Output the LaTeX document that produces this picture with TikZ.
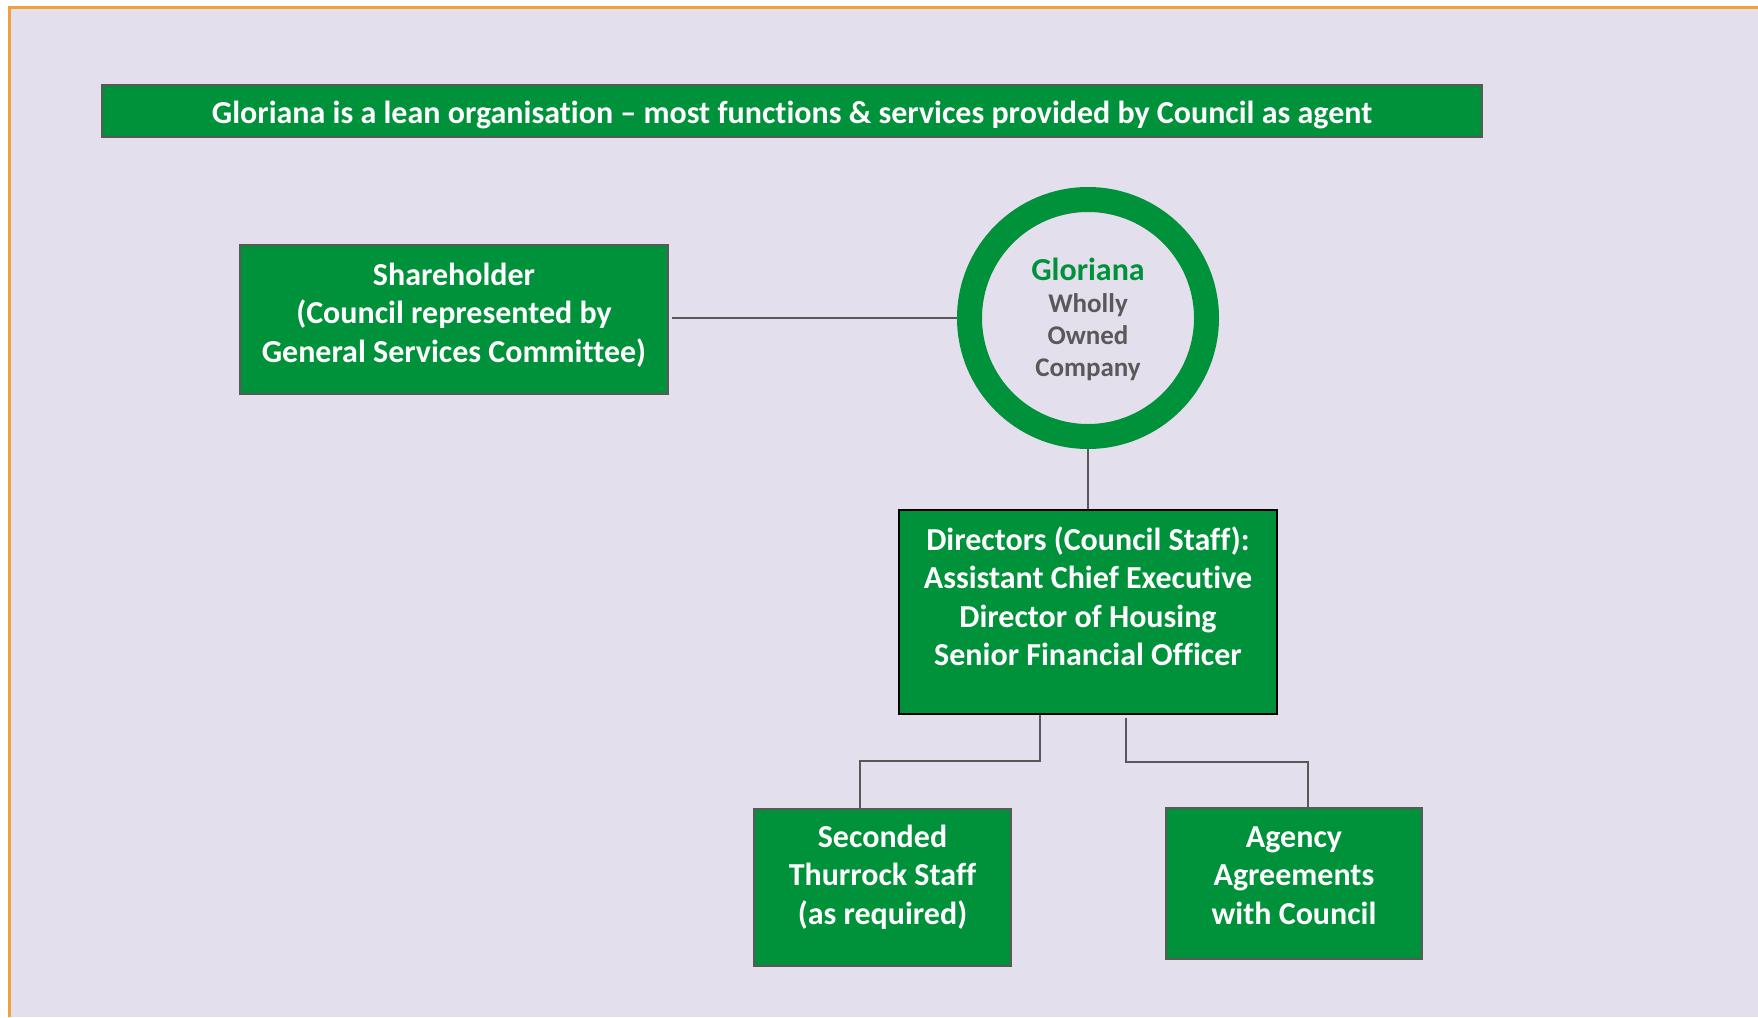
\documentclass[tikz,border=0pt]{standalone}
\usepackage{fontspec}
\setmainfont{Carlito}[Ligatures={TeX,NoCommon}]
\usetikzlibrary{positioning}
\definecolor{glgreen}{HTML}{00923A}
\definecolor{lavender}{HTML}{E4DFEC}
\definecolor{edgegray}{HTML}{595959}
\definecolor{frameorange}{HTML}{F2A13A}
\tikzset{
  box/.style={draw=edgegray,line width=2.5pt,fill=glgreen,text=white,align=center,
    font=\bfseries\fontsize{32}{38.5}\selectfont,inner sep=0pt},
  link/.style={draw=edgegray,line width=2pt},
}
\begin{document}
\begin{tikzpicture}[x=1pt,y=-1pt,line join=miter]
  \useasboundingbox (0,0) rectangle (1758,1017);
  % page frame: lavender panel, orange edge on top and left
  \fill[lavender] (9,7) rectangle (1758,1017);
  \draw[frameorange,line width=3pt] (9,1017) -- (9,7) -- (1758,7);
  % banner
  \node[box,minimum width=1380pt,minimum height=52pt,text height=30pt,text depth=5pt] (title) at (792,111)
    {Gloriana is a lean organisation -- most functions \& services provided by Council as agent};
  % company ring and shareholder
  \node[circle,draw=glgreen,line width=25pt,minimum size=237pt,inner sep=0pt,align=center,
    text=edgegray,font=\bfseries\fontsize{27}{32}\selectfont,text depth=1pt] (glor) at (1088,318)
    {{\color{glgreen}\fontsize{32}{36}\selectfont Gloriana}\\Wholly\\Owned\\Company};
  \node[box,minimum width=428pt,minimum height=149pt,text depth=14pt] (share) at (454,319.5)
    {Shareholder\\(Council represented by\\General Services Committee)};
  % board and below
  \node[box,draw=black,minimum width=378pt,minimum height=204pt,text depth=32pt] (dir) at (1088,612)
    {Directors (Council Staff):\\Assistant Chief Executive\\Director of Housing\\Senior Financial Officer};
  \node[box,minimum width=257pt,minimum height=157pt,text depth=26pt] (sec) at (882.5,887.5)
    {Seconded\\Thurrock Staff\\(as required)};
  \node[box,minimum width=256pt,minimum height=151pt,text depth=16pt] (agc) at (1294,883.5)
    {Agency\\Agreements\\with Council};
  % connectors
  \draw[link] (glor.west) -- ([xshift=3pt]share.east |- glor.west);
  \draw[link] (glor.south) -- (dir.north);
  \draw[link] ([xshift=-48pt]dir.south) -- ++(0,46) -| ([xshift=-23pt]sec.north);
  \draw[link] ([xshift=38pt,yshift=-3pt]dir.south) -- ++(0,44) -| ([xshift=14pt]agc.north);
\end{tikzpicture}
\end{document}
